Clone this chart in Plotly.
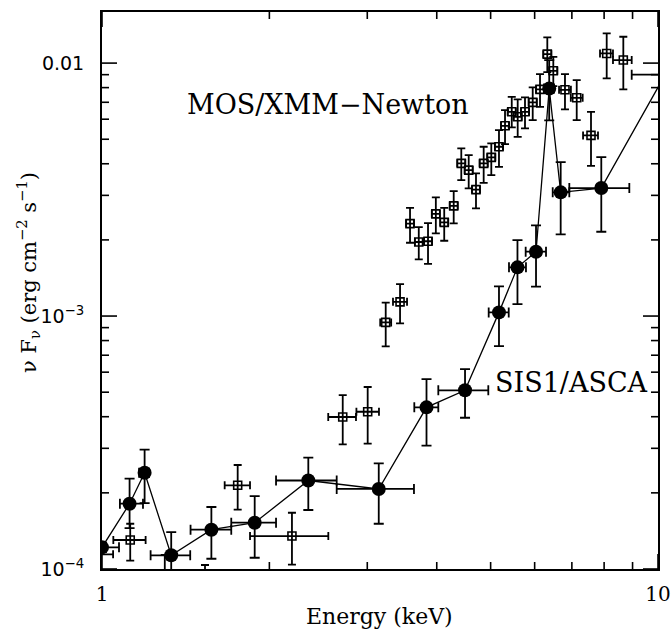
import plotly.graph_objects as go

# ---------------- SIS1/ASCA (filled circles, connected) ----------------
sis_E    = [1.00, 1.121, 1.193, 1.332, 1.573, 1.882, 2.350, 3.146, 3.834, 4.497, 5.176, 5.588, 6.034, 6.373, 6.683, 7.907, 10.3]
sis_Elo  = [0.93, 1.077, 1.166, 1.223, 1.443, 1.708, 2.056, 2.643, 3.645, 4.026, 4.960, 5.395, 5.781, 6.237, 6.466, 6.926, 8.968]
sis_Ehi  = [1.073, 1.185, 1.215, 1.441, 1.708, 2.056, 2.643, 3.640, 4.026, 4.952, 5.389, 5.788, 6.289, 6.501, 6.926, 8.880, 11.8]
sis_F    = [1.218e-4, 1.812e-4, 2.403e-4, 1.133e-4, 1.430e-4, 1.524e-4, 2.238e-4, 2.072e-4, 4.356e-4, 5.086e-4,
            1.034e-3, 1.558e-3, 1.796e-3, 7.929e-3, 3.083e-3, 3.206e-3, 9.0e-3]
sis_Flo  = [1.17e-4, 1.452e-4, 1.823e-4, 0.85e-4, 1.098e-4, 1.108e-4, 1.711e-4, 1.510e-4, 3.072e-4, 3.963e-4,
            7.61e-4, 1.115e-3, 1.306e-3, 5.936e-3, 2.104e-3, 2.154e-3, 6.3e-3]
sis_Fhi  = [1.27e-4, 2.275e-4, 2.962e-4, 1.400e-4, 1.758e-4, 1.943e-4, 2.754e-4, 2.617e-4, 5.636e-4, 6.173e-4,
            1.311e-3, 1.997e-3, 2.283e-3, 1.028e-2, 4.062e-3, 4.250e-3, 1.15e-2]

# ---------------- MOS/XMM-Newton (open squares) ----------------
mos_E   = [0.967, 1.124, 1.297, 1.532, 1.754, 2.196, 2.710, 3.005, 3.238, 3.436,
           3.581, 3.713, 3.858, 3.985, 4.126, 4.291, 4.428, 4.566, 4.706, 4.858,
           5.014, 5.176, 5.307, 5.457, 5.593, 5.765, 5.952, 6.135, 6.323, 6.482,
           6.803, 7.142, 7.577, 8.086, 8.662]
mos_Elo = [0.90, 1.048, 1.27, 1.50, 1.662, 1.846, 2.552, 2.868, 3.165, 3.337,
           3.523, 3.654, 3.795, 3.919, 4.058, 4.221, 4.355, 4.490, 4.628, 4.777,
           4.930, 5.089, 5.219, 5.366, 5.499, 5.668, 5.853, 6.033, 6.218, 6.374,
           6.638, 6.969, 7.332, 7.865, 8.299]
mos_Ehi = [1.047, 1.198, 1.32, 1.56, 1.846, 2.553, 2.863, 3.149, 3.312, 3.537,
           3.640, 3.773, 3.923, 4.052, 4.195, 4.363, 4.502, 4.642, 4.785, 4.940,
           5.098, 5.264, 5.397, 5.548, 5.687, 5.863, 6.053, 6.239, 6.430, 6.591,
           6.972, 7.320, 7.800, 8.299, 8.968]
mos_F   = [1.143e-4, 1.302e-4, 0.90e-4, 0.90e-4, 2.142e-4, 1.350e-4, 3.989e-4, 4.185e-4, 9.44e-4, 1.138e-3,
           2.320e-3, 1.962e-3, 1.976e-3, 2.535e-3, 2.346e-3, 2.727e-3, 4.014e-3, 3.776e-3, 3.162e-3, 4.014e-3,
           4.240e-3, 4.669e-3, 5.652e-3, 6.420e-3, 6.134e-3, 6.420e-3, 6.994e-3, 7.870e-3, 1.085e-2, 9.324e-3,
           7.843e-3, 7.292e-3, 5.178e-3, 1.092e-2, 1.028e-2]
mos_Flo = [1.12e-4, 1.079e-4, 0.75e-4, 0.75e-4, 1.716e-4, 1.040e-4, 3.111e-4, 3.128e-4, 7.59e-4, 9.36e-4,
           1.949e-3, 1.675e-3, 1.609e-3, 2.123e-3, 1.985e-3, 2.325e-3, 3.447e-3, 3.197e-3, 2.666e-3, 3.364e-3,
           3.608e-3, 3.891e-3, 4.785e-3, 5.569e-3, 5.113e-3, 5.519e-3, 5.952e-3, 6.719e-3, 9.21e-3, 8.11e-3,
           6.561e-3, 5.952e-3, 3.927e-3, 8.700e-3, 7.870e-3]
mos_Fhi = [1.17e-4, 1.510e-4, 1.136e-4, 1.037e-4, 2.577e-4, 1.669e-4, 4.872e-4, 5.241e-4, 1.129e-3, 1.338e-3,
           2.679e-3, 2.248e-3, 2.331e-3, 2.945e-3, 2.679e-3, 3.120e-3, 4.600e-3, 4.329e-3, 3.664e-3, 4.669e-3,
           4.815e-3, 5.435e-3, 6.520e-3, 7.359e-3, 7.187e-3, 7.318e-3, 8.017e-3, 9.05e-3, 1.264e-2, 1.059e-2,
           9.05e-3, 8.566e-3, 6.420e-3, 1.310e-2, 1.271e-2]

x_tickvals = [1, 10]
x_ticktext = ["1", "10"]
y_tickvals = [1e-4, 1e-3, 1e-2]
y_ticktext = ["10<sup>−4</sup>", "10<sup>−3</sup>", "0.01"]
x_minor = [2, 3, 4, 5, 6, 7, 8, 9]
y_minor = [m * d for d in (1e-4, 1e-3, 1e-2) for m in range(2, 10)]

X_RANGE = [0, 1]
Y_RANGE = [-4, -1.798]
W, H = 671, 633
MARGIN = dict(l=102, r=13, t=12, b=64)
PLOT_W = W - MARGIN["l"] - MARGIN["r"]
PLOT_H = H - MARGIN["t"] - MARGIN["b"]


def errs(v, lo, hi):
    return [h - c for c, h in zip(v, hi)], [c - l for c, l in zip(v, lo)]


fig = go.Figure()

# ---- inside tick marks on all four sides (drawn as a line trace from the tick values) ----
px_x = (X_RANGE[1] - X_RANGE[0]) / PLOT_W   # log-decades per pixel along x
px_y = (Y_RANGE[1] - Y_RANGE[0]) / PLOT_H   # log-decades per pixel along y
ylo, yhi = 10 ** Y_RANGE[0], 10 ** Y_RANGE[1]
xlo, xhi = 10 ** X_RANGE[0], 10 ** X_RANGE[1]
tx, ty = [], []
for v, ln in [(v, 15) for v in x_tickvals] + [(v, 7) for v in x_minor]:
    tx += [v, v, None, v, v, None]
    ty += [ylo, ylo * 10 ** (ln * px_y), None, yhi / 10 ** (ln * px_y), yhi, None]
for v, ln in [(v, 15) for v in y_tickvals] + [(v, 7) for v in y_minor]:
    if v > yhi:
        continue
    tx += [xlo, xlo * 10 ** (ln * px_x), None, xhi / 10 ** (ln * px_x), xhi, None]
    ty += [v, v, None, v, v, None]
fig.add_trace(go.Scatter(x=tx, y=ty, mode="lines", line=dict(color="black", width=1.6),
                         hoverinfo="skip", showlegend=False, cliponaxis=True))

ex_p, ex_m = errs(mos_E, mos_Elo, mos_Ehi)
ey_p, ey_m = errs(mos_F, mos_Flo, mos_Fhi)
fig.add_trace(go.Scatter(
    x=mos_E, y=mos_F, mode="markers",
    marker=dict(symbol="square-open", size=8, color="black", line=dict(width=1.6, color="black")),
    error_x=dict(type="data", symmetric=False, array=ex_p, arrayminus=ex_m, color="black", thickness=1.8, width=4),
    error_y=dict(type="data", symmetric=False, array=ey_p, arrayminus=ey_m, color="black", thickness=1.8, width=4),
    showlegend=False, cliponaxis=True,
))

ex_p, ex_m = errs(sis_E, sis_Elo, sis_Ehi)
ey_p, ey_m = errs(sis_F, sis_Flo, sis_Fhi)
fig.add_trace(go.Scatter(
    x=sis_E, y=sis_F, mode="lines+markers",
    line=dict(color="black", width=1.3),
    marker=dict(symbol="circle", size=14, color="black"),
    error_x=dict(type="data", symmetric=False, array=ex_p, arrayminus=ex_m, color="black", thickness=1.8, width=5),
    error_y=dict(type="data", symmetric=False, array=ey_p, arrayminus=ey_m, color="black", thickness=1.8, width=5),
    showlegend=False, cliponaxis=True,
))

serif = "DejaVu Serif"
axis_common = dict(
    type="log", showgrid=False, zeroline=False, showline=True, linecolor="black", linewidth=2,
    mirror=True, ticks="", automargin=False,
)

fig.update_xaxes(
    **axis_common, range=X_RANGE, tickmode="array", tickvals=x_tickvals, ticktext=x_ticktext,
    tickfont=dict(family=serif, size=20, color="black"), ticklabelstandoff=6,
)
fig.update_yaxes(
    **axis_common, range=Y_RANGE, tickmode="array", tickvals=y_tickvals, ticktext=y_ticktext,
    tickfont=dict(family="DejaVu Sans", size=19, color="black"), ticklabelstandoff=12,
)

fig.add_annotation(text="MOS/XMM−Newton", xref="paper", yref="paper", x=0.4056, y=0.8348,
                   xanchor="center", yanchor="middle",
                   showarrow=False, font=dict(family=serif, size=27, color="black"))
fig.add_annotation(text="SIS1/ASCA", xref="paper", yref="paper", x=0.8448, y=0.334,
                   xanchor="center", yanchor="middle",
                   showarrow=False, font=dict(family=serif, size=27, color="black"))
fig.add_annotation(text="Energy (keV)", xref="paper", yref="paper", x=0.499, y=-0.0844,
                   xanchor="center", yanchor="middle",
                   showarrow=False, font=dict(family=serif, size=22, color="black"))
fig.add_annotation(text="ν F<sub>ν</sub> (erg cm<sup>−2</sup> s<sup>−1</sup>)", xref="paper", yref="paper",
                   x=-0.1331, y=0.533, textangle=-90, xanchor="center", yanchor="middle",
                   showarrow=False, font=dict(family=serif, size=21, color="black"))

fig.update_layout(
    width=W, height=H,
    margin=MARGIN,
    paper_bgcolor="white", plot_bgcolor="white",
)

fig.write_html("out.html", config={"displayModeBar": False},
               post_script="document.body.style.margin='0';")
